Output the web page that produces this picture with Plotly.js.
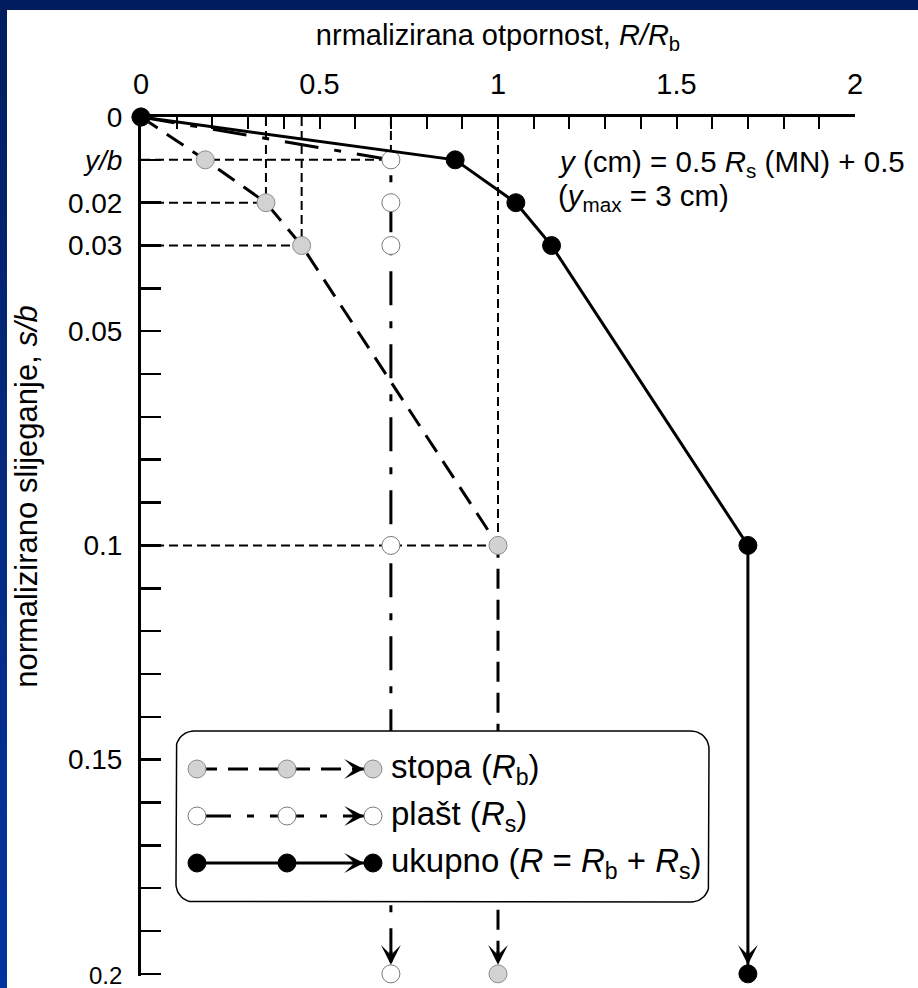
<!DOCTYPE html>
<html>
<head>
<meta charset="utf-8">
<script src="https://cdn.plot.ly/plotly-3.0.1.min.js"></script>
<style>
html,body{margin:0;padding:0;width:918px;height:988px;overflow:hidden;}
body{background:linear-gradient(to bottom,#021d5e 0%,#062a80 50%,#0033a0 100%);}
#chart{position:absolute;left:7px;top:10px;width:911px;height:978px;background:#ffffff;}
</style>
</head>
<body>
<div id="chart"></div>
<script>
// ---- data ----
const settlement = [0, 0.01, 0.02, 0.03, 0.1, 0.2];        // s/b
const baseR      = [0, 0.18, 0.35, 0.45, 1.0, 1.0];        // stopa R_b / R_b
const shaftR     = [0, 0.7, 0.7, 0.7, 0.7, 0.7];           // plašt R_s / R_b
const totalR     = [0, 0.88, 1.05, 1.15, 1.7, 1.7];        // ukupno R / R_b

const seriesNames = [
  'stopa (<i>R</i><sub>b</sub>)',
  'plašt (<i>R</i><sub>s</sub>)',
  'ukupno (<i>R</i> = <i>R</i><sub>b</sub> + <i>R</i><sub>s</sub>)'
];

const xTickVals = [0, 0.5, 1, 1.5, 2];
const xTickText = ['0', '0.5', '1', '1.5', '2'];
const yTickVals = [0, 0.01, 0.02, 0.03, 0.05, 0.1, 0.15, 0.2];
const yTickText = ['0', '<i>y/b</i>', '0.02', '0.03', '0.05', '0.1', '0.15', '0.2'];

const xTitle = 'nrmalizirana otpornost, <i>R/R</i><sub>b</sub>';
const yTitle = 'normalizirano slijeganje, <i>s/b</i>';
const noteLine1 = '<i>y</i> (cm) = 0.5 <i>R</i><sub>s</sub> (MN) + 0.5';
const noteLine2 = '(<i>y</i><sub>max</sub> = 3 cm)';

// which points get thin dashed guide lines to the axes
const baseGuideIdx = [2, 3, 4];
const shaftGuideIdx = [1];

// ---- styling ----
const FONT = 'Liberation Sans, Arial, sans-serif';
const styles = [
  {dash: '20px,11px', marker: {size: 18, color: '#d2d2d2', line: {color: '#8c8c8c', width: 1}}},
  {dash: '34px,16px,7px,16px', marker: {size: 18, color: '#ffffff', line: {color: '#7a7a7a', width: 1}}},
  {dash: 'solid', marker: {size: 18, color: '#000000', line: {color: '#000000', width: 1}}}
];
const seriesX = [baseR, shaftR, totalR];

// the bottom tick label sits at the page edge: draw it a little smaller so it stays inside
const yTickLabels = yTickText.map((t, i) =>
  i === yTickText.length - 1 ? '<span style="font-size:24px">' + t + '</span>' : t);

// guide lines built from the data
const gx = [], gy = [];
function addGuide(xv, yv) {
  gx.push(0, xv, null, xv, xv, null);
  gy.push(yv, yv, null, 0, yv, null);
}
baseGuideIdx.forEach(i => addGuide(baseR[i], settlement[i]));
shaftGuideIdx.forEach(i => addGuide(shaftR[i], settlement[i]));

const traces = [];
traces.push({
  x: gx, y: gy, mode: 'lines', type: 'scatter', hoverinfo: 'skip', showlegend: false,
  line: {color: '#000', width: 2, dash: '9px,5px'}
});
seriesX.forEach((xs, k) => {
  traces.push({
    x: xs, y: settlement, type: 'scatter', mode: 'lines+markers', name: seriesNames[k],
    showlegend: false, cliponaxis: false,
    line: {color: '#000', width: 3, dash: styles[k].dash},
    marker: styles[k].marker
  });
});

// ---- custom legend box drawn in an inset subplot (units = pixels) ----
const BW = 533, BH = 171, R = 18;
const bx = [], by = [];
function arc(cx, cy, a0, a1) {
  for (let i = 0; i <= 12; i++) {
    const a = a0 + (a1 - a0) * i / 12;
    bx.push(cx + R * Math.cos(a)); by.push(cy + R * Math.sin(a));
  }
}
arc(BW - R, R, -Math.PI / 2, 0);
arc(BW - R, BH - R, 0, Math.PI / 2);
arc(R, BH - R, Math.PI / 2, Math.PI);
arc(R, R, Math.PI, 1.5 * Math.PI);
bx.push(bx[0]); by.push(by[0]);
traces.push({
  x: bx, y: by, xaxis: 'x2', yaxis: 'y2', type: 'scatter', mode: 'lines', fill: 'toself',
  fillcolor: '#ffffff', line: {color: '#000', width: 1.5}, hoverinfo: 'skip', showlegend: false
});
const legRows = [38, 85, 132];
const legXs = [21, 111, 197];
seriesNames.forEach((n, k) => {
  traces.push({
    x: legXs, y: legXs.map(() => legRows[k]), xaxis: 'x2', yaxis: 'y2', type: 'scatter',
    mode: 'lines+markers', hoverinfo: 'skip', showlegend: false, cliponaxis: false,
    line: {color: '#000', width: 3, dash: styles[k].dash}, marker: styles[k].marker
  });
});

const annotations = [];
// arrowheads at the ends of the three curves
seriesX.forEach(xs => {
  annotations.push({
    x: xs[xs.length - 1], y: settlement[settlement.length - 1], xref: 'x', yref: 'y',
    text: '', showarrow: true, ax: 0, ay: -24, arrowhead: 3, arrowsize: 1.1, arrowwidth: 3,
    arrowcolor: '#000', standoff: 9
  });
});
// legend arrowheads and text
seriesNames.forEach((n, k) => {
  annotations.push({
    x: legXs[2], y: legRows[k], xref: 'x2', yref: 'y2', axref: 'x2', ayref: 'y2',
    ax: legXs[2] - 22, ay: legRows[k], text: '', showarrow: true, arrowhead: 3,
    arrowsize: 1.1, arrowwidth: 3, arrowcolor: '#000', standoff: 9
  });
  annotations.push({
    x: 213, y: legRows[k], xref: 'x2', yref: 'y2', text: n, showarrow: false,
    xanchor: 'left', yanchor: 'middle', font: {family: FONT, size: 33, color: '#000'}
  });
});
annotations.push({
  x: 0.5812, y: 0.9463, xref: 'paper', yref: 'paper', text: noteLine1, showarrow: false,
  xanchor: 'left', yanchor: 'middle', font: {family: FONT, size: 29.5, color: '#000'}
});
annotations.push({
  x: 0.5812, y: 0.9067, xref: 'paper', yref: 'paper', text: noteLine2, showarrow: false,
  xanchor: 'left', yanchor: 'middle', font: {family: FONT, size: 29.5, color: '#000'}
});
// y-axis title (placed like the reference, above the plot centre)
annotations.push({
  x: -0.1597, y: 0.559, xref: 'paper', yref: 'paper', text: yTitle, showarrow: false,
  textangle: -90, xanchor: 'center', yanchor: 'middle',
  font: {family: FONT, size: 31, color: '#000'}
});

const layout = {
  width: 911, height: 978,
  margin: {l: 134, r: 63, t: 107, b: 12, pad: 0},
  paper_bgcolor: '#ffffff', plot_bgcolor: 'rgba(0,0,0,0)',
  showlegend: false,
  font: {family: FONT, color: '#000'},
  xaxis: {
    side: 'top', range: [0, 2], tickmode: 'array', tickvals: xTickVals, ticktext: xTickText,
    ticks: 'inside', ticklen: 12, tickwidth: 2, tickcolor: '#000', ticklabelstandoff: 8,
    minor: {dtick: 0.1, tick0: 0, ticks: 'inside', ticklen: 12, tickwidth: 2, tickcolor: '#000', showgrid: false},
    showline: true, linewidth: 3, linecolor: '#000', showgrid: false, zeroline: false,
    tickfont: {family: FONT, size: 29, color: '#000'},
    title: {text: xTitle, font: {family: FONT, size: 29, color: '#000'}, standoff: 15},
    fixedrange: true
  },
  yaxis: {
    range: [0.2005, 0], tickmode: 'array', tickvals: yTickVals, ticktext: yTickLabels,
    ticks: 'inside', ticklen: 20, tickwidth: 2.5, tickcolor: '#000', ticklabelstandoff: 10,
    ticklabeloverflow: 'allow',
    minor: {dtick: 0.01, tick0: 0, ticks: 'inside', ticklen: 20, tickwidth: 2.5, tickcolor: '#000', showgrid: false},
    showline: true, linewidth: 3, linecolor: '#000', showgrid: false, zeroline: false,
    tickfont: {family: FONT, size: 28, color: '#000'},
    fixedrange: true
  },
  xaxis2: {domain: [(166 - 134) / 714, (705 - 134) / 714], range: [-3, 536], visible: false, fixedrange: true},
  yaxis2: {domain: [(966 - 895) / 859, (966 - 718) / 859], range: [174, -3], visible: false, fixedrange: true},
  annotations: annotations
};

Plotly.newPlot('chart', traces, layout, {staticPlot: true, displayModeBar: false});
</script>
</body>
</html>
